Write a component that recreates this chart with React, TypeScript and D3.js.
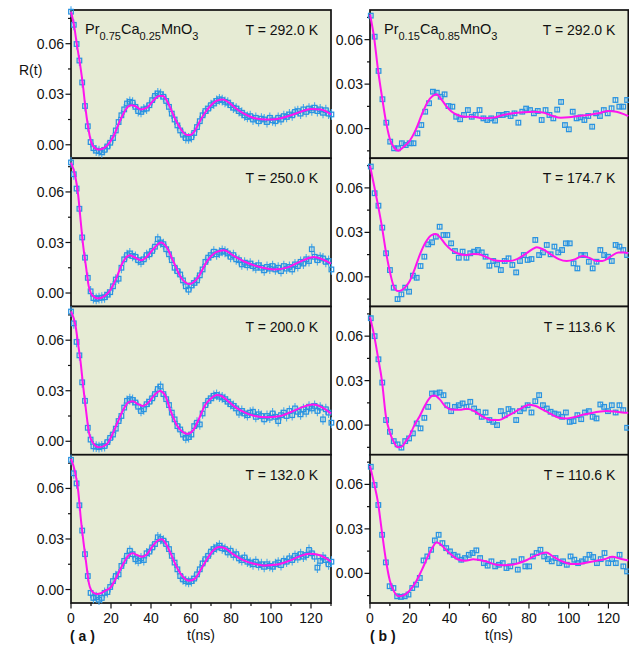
import React from 'react';
import * as d3 from 'd3';

const FONT = '"Liberation Sans", Arial, Helvetica, sans-serif';
const BG = '#e6ebd4';
const BLUE = '#2a93e0';
const BAR = '#47a8ee';
const FIT = '#ff14ee';

// axes
const xDomain = [0, 130];
const xMajor = [0, 20, 40, 60, 80, 100, 120];
const xMinor = [10, 30, 50, 70, 90, 110, 130];
const yMajor = [0, 0.03, 0.06];
const yMinor = [-0.015, 0.015, 0.045, 0.075];
const yDomainLeft = [-0.008, 0.08];
const yDomainRight = [-0.02, 0.08];

const tempsLeft = ['292.0', '250.0', '200.0', '132.0'];
const tempsRight = ['292.0', '174.7', '113.6', '110.6'];
const compLeft = ['0.75', '0.25'];
const compRight = ['0.15', '0.85'];

// sampled time span (ns) and error bar half height
const spanLeft = [0, 130.2];
const spanRight = [0.4, 129.4];
const errLeft = 0.0032;
const errRight = 0.0018;

// ---- (a) Pr0.75Ca0.25MnO3 ----
const dataL1 = [
  0.0790, 0.0712, 0.0598, 0.0500, 0.0370, 0.0230, 0.0110, 0.0016, -0.0020, -0.0035,
  -0.0038, -0.0045, -0.0030, -0.0010, 0.0012, 0.0040, 0.0085, 0.0135, 0.0175, 0.0210,
  0.0245, 0.0255, 0.0250, 0.0225, 0.0200, 0.0195, 0.0210, 0.0215, 0.0235, 0.0265,
  0.0290, 0.0305, 0.0300, 0.0285, 0.0260, 0.0225, 0.0185, 0.0150, 0.0115, 0.0085,
  0.0060, 0.0040, 0.0038, 0.0045, 0.0070, 0.0105, 0.0140, 0.0175, 0.0200, 0.0215,
  0.0235, 0.0245, 0.0260, 0.0270, 0.0265, 0.0255, 0.0250, 0.0235, 0.0220, 0.0215,
  0.0200, 0.0190, 0.0175, 0.0165, 0.0170, 0.0150, 0.0160, 0.0140, 0.0155, 0.0150,
  0.0135, 0.0160, 0.0145, 0.0140, 0.0160, 0.0150, 0.0170, 0.0165, 0.0180, 0.0175,
  0.0195, 0.0200, 0.0185, 0.0210, 0.0195, 0.0215, 0.0205, 0.0220, 0.0200, 0.0210,
  0.0190, 0.0205, 0.0185, 0.0180,
];
const fitTL1 = [0, 1.5, 3, 4.5, 6, 7.2, 8.5, 10, 12, 14, 16, 18, 20, 22, 24, 26, 28, 30, 32, 35, 38, 41, 44, 46, 48, 50, 52, 54, 56, 58, 60, 62, 64, 67, 70, 73, 76, 79, 82, 86, 90, 95, 100, 105, 110, 115, 120, 125, 130];
const fitVL1 = [0.079, 0.071, 0.059, 0.048, 0.035, 0.022, 0.011, 0.002, -0.002, -0.0028, -0.0022, -0.0005, 0.0025, 0.007, 0.013, 0.018, 0.022, 0.0235, 0.023, 0.021, 0.022, 0.026, 0.029, 0.029, 0.026, 0.021, 0.0155, 0.011, 0.0075, 0.0058, 0.006, 0.0085, 0.013, 0.019, 0.0235, 0.0262, 0.0268, 0.025, 0.022, 0.0188, 0.0165, 0.0152, 0.015, 0.0158, 0.0175, 0.0197, 0.0213, 0.021, 0.018];

const dataL2 = [
  0.0775, 0.0705, 0.0620, 0.0500, 0.0330, 0.0210, 0.0090, 0.0010, -0.0030, -0.0035,
  -0.0030, -0.0028, -0.0025, -0.0010, 0.0005, 0.0040, 0.0080, 0.0085, 0.0150, 0.0200,
  0.0225, 0.0235, 0.0220, 0.0215, 0.0195, 0.0185, 0.0200, 0.0225, 0.0230, 0.0250,
  0.0275, 0.0320, 0.0300, 0.0290, 0.0260, 0.0230, 0.0195, 0.0150, 0.0130, 0.0110,
  0.0075, 0.0040, 0.0020, 0.0045, 0.0060, 0.0075, 0.0105, 0.0140, 0.0185, 0.0210,
  0.0225, 0.0245, 0.0230, 0.0240, 0.0250, 0.0245, 0.0235, 0.0215, 0.0225, 0.0200,
  0.0195, 0.0170, 0.0180, 0.0165, 0.0175, 0.0160, 0.0150, 0.0165, 0.0150, 0.0135,
  0.0155, 0.0145, 0.0160, 0.0140, 0.0150, 0.0130, 0.0160, 0.0145, 0.0155, 0.0140,
  0.0170, 0.0160, 0.0185, 0.0175, 0.0200, 0.0190, 0.0260, 0.0215, 0.0195, 0.0210,
  0.0205, 0.0185, 0.0190, 0.0140,
];
const fitTL2 = [0, 2.2, 3.6, 4.9, 6.1, 7.6, 8.8, 10.8, 13.5, 17, 20, 22.5, 26, 29.3, 31.5, 35, 37.8, 41.4, 45, 47.7, 51.3, 54.9, 59.4, 63, 68.3, 72.8, 76.4, 81, 87.2, 94.4, 101.6, 108.8, 116, 121.4, 130];
const fitVL2 = [0.0774, 0.069, 0.058, 0.042, 0.028, 0.0148, 0.0044, -0.0016, -0.0032, -0.0016, 0.0024, 0.0084, 0.0184, 0.0224, 0.0214, 0.0194, 0.0214, 0.0264, 0.030, 0.0274, 0.0184, 0.0094, 0.0054, 0.0084, 0.0194, 0.0244, 0.0254, 0.0224, 0.0184, 0.0154, 0.014, 0.0154, 0.0194, 0.0214, 0.0174];

const dataL3 = [
  0.0770, 0.0700, 0.0590, 0.0510, 0.0350, 0.0240, 0.0080, 0.0010, -0.0030, -0.0032,
  -0.0035, -0.0030, -0.0028, -0.0005, 0.0020, 0.0040, 0.0075, 0.0120, 0.0150, 0.0200,
  0.0240, 0.0250, 0.0245, 0.0230, 0.0205, 0.0180, 0.0190, 0.0220, 0.0235, 0.0255,
  0.0280, 0.0310, 0.0325, 0.0280, 0.0250, 0.0215, 0.0170, 0.0130, 0.0090, 0.0070,
  0.0040, 0.0020, 0.0025, 0.0040, 0.0090, 0.0110, 0.0100, 0.0165, 0.0215, 0.0240,
  0.0255, 0.0270, 0.0275, 0.0265, 0.0260, 0.0250, 0.0235, 0.0220, 0.0210, 0.0195,
  0.0170, 0.0180, 0.0165, 0.0155, 0.0170, 0.0175, 0.0145, 0.0160, 0.0150, 0.0130,
  0.0150, 0.0140, 0.0165, 0.0145, 0.0120, 0.0155, 0.0170, 0.0150, 0.0180, 0.0155,
  0.0195, 0.0175, 0.0160, 0.0190, 0.0175, 0.0205, 0.0195, 0.0210, 0.0180, 0.0200,
  0.0130, 0.0190, 0.0170, 0.0110,
];
const fitTL3 = [0, 2.2, 3.6, 4.9, 6.1, 7.6, 8.8, 10.8, 14, 18, 20, 23, 26, 29, 31, 33, 36, 39, 42, 44.5, 47, 50, 53, 56, 58.5, 61, 64, 67, 70, 73, 75, 78, 82, 87, 92, 98, 104, 110, 116, 121, 126, 130];
const fitVL3 = [0.077, 0.069, 0.0574, 0.046, 0.0324, 0.0174, 0.0064, -0.0006, -0.0036, -0.0016, 0.0024, 0.0104, 0.0184, 0.0234, 0.0238, 0.0224, 0.021, 0.0234, 0.0278, 0.0298, 0.0274, 0.0174, 0.0094, 0.0054, 0.0044, 0.0064, 0.0134, 0.0214, 0.0254, 0.0274, 0.027, 0.0244, 0.0204, 0.017, 0.015, 0.0142, 0.0148, 0.0174, 0.0204, 0.0218, 0.0198, 0.0164];

const dataL4 = [
  0.0770, 0.0690, 0.0630, 0.0500, 0.0350, 0.0210, 0.0080, -0.0020, -0.0050, -0.0045,
  -0.0060, -0.0050, -0.0020, -0.0015, 0.0015, 0.0050, 0.0080, 0.0090, 0.0140, 0.0170,
  0.0200, 0.0230, 0.0210, 0.0180, 0.0170, 0.0185, 0.0175, 0.0215, 0.0225, 0.0250,
  0.0270, 0.0310, 0.0300, 0.0290, 0.0270, 0.0240, 0.0200, 0.0160, 0.0120, 0.0080,
  0.0060, 0.0050, 0.0045, 0.0050, 0.0065, 0.0090, 0.0120, 0.0155, 0.0180, 0.0200,
  0.0225, 0.0240, 0.0250, 0.0260, 0.0245, 0.0240, 0.0220, 0.0230, 0.0205, 0.0210,
  0.0185, 0.0175, 0.0190, 0.0165, 0.0160, 0.0150, 0.0165, 0.0145, 0.0150, 0.0135,
  0.0150, 0.0140, 0.0135, 0.0150, 0.0160, 0.0145, 0.0170, 0.0165, 0.0185, 0.0175,
  0.0200, 0.0190, 0.0210, 0.0195, 0.0205, 0.0235, 0.0215, 0.0195, 0.0130, 0.0170,
  0.0190, 0.0175, 0.0150, 0.0165,
];
const fitTL4 = [0, 2, 3.6, 5, 6.2, 7.7, 9, 10.8, 12.8, 15, 17, 20, 23, 26, 29, 31, 33, 35.5, 38, 41, 44, 45.5, 47, 50, 53, 56, 59, 62, 65, 68, 71, 74, 77, 81, 86, 91, 97, 103, 109, 114, 119, 124, 130];
const fitVL4 = [0.0776, 0.070, 0.0586, 0.041, 0.0286, 0.0146, 0.0035, -0.0015, -0.0026, -0.0022, -0.0008, 0.0015, 0.008, 0.015, 0.0205, 0.0215, 0.0205, 0.0195, 0.021, 0.026, 0.0295, 0.0298, 0.028, 0.021, 0.013, 0.0075, 0.0052, 0.0065, 0.012, 0.018, 0.023, 0.0252, 0.0245, 0.021, 0.0175, 0.0155, 0.0143, 0.0148, 0.017, 0.0195, 0.0213, 0.0205, 0.0165];

// ---- (b) Pr0.15Ca0.85MnO3 ----
const dataR1 = [
  0.0762, 0.0620, 0.0389, 0.0198, 0.0040, -0.0088, -0.0133, -0.0133, -0.0099, -0.0111,
  -0.0099, -0.0099, -0.0032, 0.0024, 0.0114, 0.0171, 0.0249, 0.0242, 0.0215, 0.0231,
  0.0152, 0.0148, 0.0080, 0.0063, 0.0092, 0.0125, 0.0080, 0.0092, 0.0125, 0.0069,
  0.0058, 0.0069, 0.0054, 0.0092, 0.0092, 0.0099, 0.0085, 0.0103, 0.0040, 0.0114,
  0.0135, 0.0125, 0.0103, 0.0119, 0.0058, 0.0125, 0.0092, 0.0069, 0.0128, 0.0180,
  0.0024, -0.0005, 0.0114, 0.0069, 0.0076, 0.0058, 0.0085, 0.0013, 0.0103, 0.0085,
  0.0125, 0.0103, 0.0137, 0.0193, 0.0148, 0.0148, 0.0193,
];
const fitTR1 = [0, 2, 4, 6.2, 8, 10, 12, 14.3, 17, 20, 23, 26, 29, 31.5, 33.5, 36, 38.5, 41, 44, 48, 52, 57, 62, 67, 72, 77, 82, 87, 92, 96, 100, 105, 110, 115, 120, 124, 128, 130];
const fitVR1 = [0.077, 0.062, 0.040, 0.020, 0.005, -0.007, -0.0125, -0.0149, -0.0122, -0.0082, -0.0009, 0.0092, 0.018, 0.022, 0.0232, 0.0195, 0.015, 0.0115, 0.0092, 0.008, 0.008, 0.0069, 0.0074, 0.0092, 0.0103, 0.011, 0.0114, 0.0108, 0.0085, 0.0074, 0.0076, 0.0085, 0.0092, 0.0103, 0.0119, 0.0114, 0.0096, 0.0085];

const dataR2 = [
  0.0744, 0.0564, 0.0480, 0.0332, 0.0159, 0.0046, -0.0073, -0.0150, -0.0118, -0.0073,
  -0.0100, 0.0008, -0.0006, 0.0073, 0.0136, 0.0219, 0.0233, 0.0271, 0.0338, 0.0282,
  0.0282, 0.0226, 0.0174, 0.0129, 0.0170, 0.0129, 0.0159, 0.0170, 0.0181, 0.0165,
  0.0136, 0.0075, 0.0107, 0.0084, 0.0046, 0.0107, 0.0125, 0.0080, 0.0030, 0.0107,
  0.0147, 0.0114, 0.0120, 0.0249, 0.0147, 0.0165, 0.0215, 0.0152, 0.0204, 0.0165,
  0.0181, 0.0226, 0.0226, 0.0091, 0.0057, 0.0147, 0.0147, 0.0102, 0.0057, 0.0102,
  0.0181, 0.0147, 0.0136, 0.0107, 0.0215, 0.0204, 0.0181, 0.0147,
];
const fitTR2 = [0, 2, 4, 6, 8, 10, 12, 14, 16, 18, 20, 22, 25, 28, 31, 33, 35, 38, 41, 44, 48, 52, 55, 58, 62, 66, 70, 74, 78, 82, 84, 87, 91, 95, 99, 103, 107, 111, 114, 117, 121, 125, 128, 130];
const fitVR2 = [0.075, 0.062, 0.0485, 0.0339, 0.017, 0.0035, -0.0066, -0.0096, -0.0089, -0.0066, -0.0028, 0.0035, 0.0147, 0.0233, 0.0282, 0.0289, 0.0271, 0.0219, 0.0181, 0.0159, 0.0147, 0.0154, 0.0152, 0.0136, 0.0114, 0.0107, 0.0107, 0.012, 0.0152, 0.0188, 0.0199, 0.0186, 0.0152, 0.012, 0.0107, 0.0118, 0.014, 0.0125, 0.0107, 0.0107, 0.0136, 0.0165, 0.0165, 0.0159];

const dataR3 = [
  0.0721, 0.0600, 0.0444, 0.0287, 0.0034, -0.0045, -0.0108, -0.0130, -0.0152, -0.0108,
  -0.0090, -0.0056, 0.0011, -0.0022, 0.0049, 0.0123, 0.0213, 0.0213, 0.0220, 0.0202,
  0.0134, 0.0094, 0.0123, 0.0134, 0.0146, 0.0123, 0.0157, 0.0112, 0.0090, 0.0056,
  0.0085, 0.0034, 0.0022, 0.0000, 0.0094, 0.0067, 0.0108, 0.0094, 0.0034, 0.0094,
  0.0112, 0.0134, 0.0085, 0.0161, 0.0202, 0.0134, 0.0112, 0.0090, 0.0078, 0.0072,
  0.0056, 0.0085, 0.0022, 0.0027, 0.0067, 0.0040, 0.0085, 0.0094, 0.0056, 0.0045,
  0.0139, 0.0123, 0.0094, 0.0134, 0.0085, 0.0134, 0.0101, -0.0018,
];
const fitTR3 = [0, 2, 4, 6, 8, 10, 12, 14, 16, 18, 20, 22, 25, 28, 31, 32.5, 35, 38, 41, 45, 49, 53, 57, 61, 65, 69, 73, 77, 80, 83, 87, 91, 95, 99, 103, 107, 111, 115, 119, 123, 127, 130];
const fitVR3 = [0.073, 0.061, 0.046, 0.030, 0.006, -0.005, -0.0115, -0.015, -0.0145, -0.011, -0.007, -0.001, 0.006, 0.014, 0.0195, 0.020, 0.0175, 0.0125, 0.0105, 0.0103, 0.011, 0.009, 0.0055, 0.0035, 0.0035, 0.006, 0.009, 0.012, 0.0138, 0.013, 0.0105, 0.0075, 0.005, 0.0045, 0.0055, 0.007, 0.008, 0.009, 0.0095, 0.0092, 0.0085, 0.0083];

const dataR4 = [
  0.0719, 0.0596, 0.0461, 0.0260, 0.0074, -0.0087, -0.0099, -0.0155, -0.0159, -0.0155,
  -0.0143, -0.0099, -0.0076, -0.0031, 0.0087, 0.0114, 0.0159, 0.0222, 0.0260, 0.0204,
  0.0170, 0.0148, 0.0125, 0.0114, 0.0092, 0.0103, 0.0125, 0.0137, 0.0155, 0.0103,
  0.0069, 0.0052, 0.0081, 0.0047, 0.0058, 0.0069, 0.0036, 0.0047, 0.0081, 0.0025,
  0.0096, 0.0047, 0.0047, 0.0114, 0.0137, 0.0159, 0.0114, 0.0096, 0.0081, 0.0103,
  0.0069, 0.0081, 0.0058, 0.0114, 0.0092, 0.0069, 0.0081, 0.0096, 0.0125, 0.0110,
  0.0069, 0.0096, 0.0137, 0.0069, 0.0096, 0.0069, 0.0125, 0.0047, 0.0013,
];
const fitTR4 = [0, 2, 4, 6, 8, 10, 12, 14.5, 16, 18, 20, 23, 26, 29, 31.5, 33.5, 36, 38.5, 41, 44, 48, 52, 55, 58.6, 63, 67, 70, 75, 79, 83, 86, 88.7, 92, 96, 102, 106, 110, 114, 118, 122, 126, 130];
const fitVR4 = [0.0725, 0.061, 0.048, 0.028, 0.009, -0.005, -0.012, -0.0155, -0.0152, -0.014, -0.0115, -0.006, 0.002, 0.011, 0.0175, 0.021, 0.019, 0.0155, 0.0125, 0.0095, 0.0085, 0.0095, 0.009, 0.008, 0.006, 0.0055, 0.0056, 0.007, 0.009, 0.0118, 0.0133, 0.014, 0.0115, 0.0085, 0.0063, 0.0065, 0.0075, 0.0085, 0.0095, 0.0112, 0.0098, 0.0087];

const panelsLeft = [
  { data: dataL1, fitT: fitTL1, fitV: fitVL1 },
  { data: dataL2, fitT: fitTL2, fitV: fitVL2 },
  { data: dataL3, fitT: fitTL3, fitV: fitVL3 },
  { data: dataL4, fitT: fitTL4, fitV: fitVL4 },
];
const panelsRight = [
  { data: dataR1, fitT: fitTR1, fitV: fitVR1 },
  { data: dataR2, fitT: fitTR2, fitV: fitVR2 },
  { data: dataR3, fitT: fitTR3, fitV: fitVR3 },
  { data: dataR4, fitT: fitTR4, fitV: fitVR4 },
];

// layout
const W = 629, H = 647;
const TOP = 10;
const PH = 148.25;
const COLS = [
  { x0: 71, x1: 331 },
  { x0: 370, x1: 628.3 },
];

function scalesFor(col: number, row: number) {
  const { x0, x1 } = COLS[col];
  const top = TOP + row * PH;
  const x = d3.scaleLinear().domain(xDomain).range([x0, x1]);
  const y = d3.scaleLinear().domain(col === 0 ? yDomainLeft : yDomainRight).range([top + PH, top]);
  return { x, y, top, x0, x1 };
}

function PanelBack({ col, row }: { col: number; row: number }) {
  const { x, y, top, x0, x1 } = scalesFor(col, row);
  const dom = y.domain();
  const last = row === 3;
  const yt = [
    ...yMajor.map(v => ({ v, major: true })),
    ...yMinor.filter(v => v >= dom[0] && v <= dom[1]).map(v => ({ v, major: false })),
  ];
  const temps = col === 0 ? tempsLeft : tempsRight;
  const comp = col === 0 ? compLeft : compRight;
  return (
    <g>
      <rect x={x0} y={top} width={x1 - x0} height={PH} fill={BG} stroke="#111" strokeWidth={1.7} />
      {yt.map((d, i) => (
        <line key={i} x1={x0} x2={x0 - (d.major ? 5.5 : 3)} y1={y(d.v)} y2={y(d.v)} stroke="#111" strokeWidth={1.2} />
      ))}
      {yMajor.map(v => (
        <text key={v} x={x0 - 7} y={y(v)} dy="0.36em" textAnchor="end" fontSize={14} fill="#111">
          {d3.format('.2f')(v)}
        </text>
      ))}
      <text x={x1 - 13} y={top + 25} textAnchor="end" fontSize={14} fill="#111">
        {`T = ${temps[row]} K`}
      </text>
      {row === 0 && (
        <text x={x0 + 14} y={top + 24} fontSize={14.5} fill="#111">
          <tspan>Pr</tspan>
          <tspan fontSize={11} dy={5.5}>{comp[0]}</tspan>
          <tspan dy={-5.5}>Ca</tspan>
          <tspan fontSize={11} dy={5.5}>{comp[1]}</tspan>
          <tspan dy={-5.5}>MnO</tspan>
          <tspan fontSize={11} dy={5.5}>3</tspan>
        </text>
      )}
      {last && (
        <g>
          {xMajor.map(t => (
            <line key={'M' + t} x1={x(t)} x2={x(t)} y1={top + PH} y2={top + PH + 5.5} stroke="#111" strokeWidth={1.2} />
          ))}
          {xMinor.map(t => (
            <line key={'m' + t} x1={x(t)} x2={x(t)} y1={top + PH} y2={top + PH + 3} stroke="#111" strokeWidth={1.2} />
          ))}
          {xMajor.map(t => (
            <text key={'l' + t} x={x(t)} y={623} textAnchor="middle" fontSize={14} fill="#111">{t}</text>
          ))}
        </g>
      )}
    </g>
  );
}

function PanelData({ col, row }: { col: number; row: number }) {
  const { x, y } = scalesFor(col, row);
  const p = (col === 0 ? panelsLeft : panelsRight)[row];
  const span = col === 0 ? spanLeft : spanRight;
  const step = (span[1] - span[0]) / (p.data.length - 1);
  const err = col === 0 ? errLeft : errRight;
  const pts = p.data.map((v, i) => ({ t: span[0] + i * step, v }));
  const line = d3.line<number>()
    .x((_, i) => x(p.fitT[i]))
    .y(d => y(d))
    .curve(d3.curveMonotoneX);
  const s = 4.6;
  return (
    <g>
      {pts.map((d, i) => (
        <line key={'e' + i} x1={x(d.t)} x2={x(d.t)} y1={y(d.v - err)} y2={y(d.v + err)} stroke={BAR} strokeWidth={1.1} />
      ))}
      {pts.map((d, i) => (
        <rect key={'s' + i} x={x(d.t) - s / 2} y={y(d.v) - s / 2} width={s} height={s} fill="none" stroke={BLUE} strokeWidth={1.25} />
      ))}
      <path d={line(p.fitV) || ''} fill="none" stroke={FIT} strokeWidth={2} />
    </g>
  );
}

export default function App() {
  const cells: [number, number][] = [];
  [0, 1].forEach(c => [0, 1, 2, 3].forEach(r => cells.push([c, r])));
  return (
    <svg width={W} height={H} style={{ position: 'absolute', left: 0, top: 0, background: '#fff' }} fontFamily={FONT}>
      {cells.map(([c, r]) => <PanelBack key={'b' + c + r} col={c} row={r} />)}
      {cells.map(([c, r]) => <PanelData key={'d' + c + r} col={c} row={r} />)}
      <text x={19} y={75} fontSize={14} fill="#111">R(t)</text>
      <text x={70} y={641} fontSize={14} fontWeight="bold" fill="#111">( a )</text>
      <text x={201} y={640} textAnchor="middle" fontSize={14} fill="#111">t(ns)</text>
      <text x={370} y={641} fontSize={14} fontWeight="bold" fill="#111">( b )</text>
      <text x={499} y={640} textAnchor="middle" fontSize={14} fill="#111">t(ns)</text>
    </svg>
  );
}
